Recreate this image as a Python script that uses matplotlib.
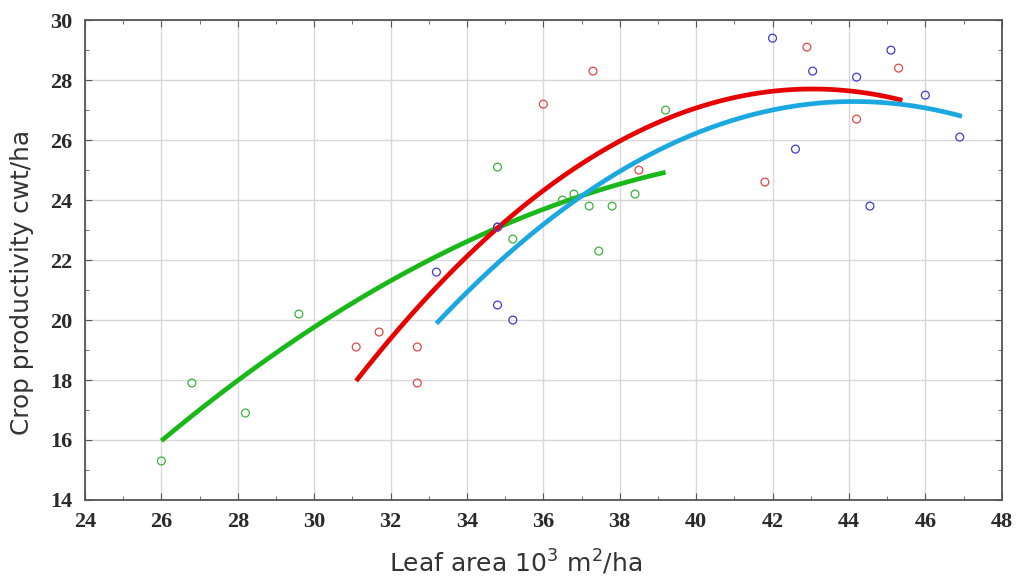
import numpy as np
import matplotlib.pyplot as plt
from matplotlib.ticker import MultipleLocator

# scatter data
green_x = [26.0, 26.8, 28.2, 29.6, 34.8, 35.2, 36.5, 36.8, 37.2, 37.45, 37.8, 38.4, 39.2]
green_y = [15.3, 17.9, 16.9, 20.2, 25.1, 22.7, 24.0, 24.2, 23.8, 22.3, 23.8, 24.2, 27.0]

red_x = [31.1, 31.7, 32.7, 32.7, 34.8, 36.0, 37.3, 38.5, 41.8, 42.9, 44.2, 45.3]
red_y = [19.1, 19.6, 19.1, 17.9, 23.1, 27.2, 28.3, 25.0, 24.6, 29.1, 26.7, 28.4]

blue_x = [33.2, 34.8, 35.2, 34.8, 42.0, 42.6, 43.05, 44.2, 44.55, 45.1, 46.0, 46.9]
blue_y = [21.6, 20.5, 20.0, 23.1, 29.4, 25.7, 28.3, 28.1, 23.8, 29.0, 27.5, 26.1]

# points
green_cx = [26.0, 30.0, 34.8, 39.2]
green_cy = [15.97, 19.77, 23.07, 24.93]
red_cx = [31.1, 34.8, 43.0, 45.4]
red_cy = [17.97, 23.07, 27.7, 27.33]
blue_cx = [33.2, 37.0, 44.1, 46.96]
blue_cy = [19.9, 24.1, 27.33, 26.77]

fig = plt.figure(figsize=(10.18, 5.76), dpi=100)
ax = fig.add_axes([0.0835, 0.132, 0.9005, 0.833])

for cx, cy, col in [(green_cx, green_cy, "#17b817"),
                    (red_cx, red_cy, "#e60000"),
                    (blue_cx, blue_cy, "#1ba8e0")]:
    p = np.polyfit(cx, cy, 2)
    xs = np.linspace(cx[0], cx[-1], 200)
    ax.plot(xs, np.polyval(p, xs), color=col, lw=3.4, solid_capstyle="butt", zorder=3)

ax.scatter(green_x, green_y, s=32, facecolors="none", edgecolors="#3cb43c", lw=0.9, zorder=4)
ax.scatter(red_x, red_y, s=32, facecolors="none", edgecolors="#e04848", lw=0.9, zorder=4)
ax.scatter(blue_x, blue_y, s=32, facecolors="none", edgecolors="#3c3cd0", lw=0.9, zorder=4)

ax.set_xlim(24, 48)
ax.set_ylim(14, 30)
ax.xaxis.set_major_locator(MultipleLocator(2))
ax.xaxis.set_minor_locator(MultipleLocator(1))
ax.yaxis.set_major_locator(MultipleLocator(2))
ax.yaxis.set_minor_locator(MultipleLocator(1))
ax.tick_params(which="both", direction="in", top=True, right=True, color="#555555")
ax.tick_params(which="major", length=5)
ax.tick_params(which="minor", length=3)
ax.tick_params(axis="x", which="major", pad=9)
ax.tick_params(axis="y", which="major", pad=9)
ax.grid(True, which="major", color="#d8d8d8", lw=1)
ax.set_axisbelow(True)
for s in ax.spines.values():
    s.set_color("#555555")
    s.set_linewidth(1.3)

for lab in ax.get_xticklabels() + ax.get_yticklabels():
    lab.set_fontfamily("Liberation Serif")
    lab.set_fontweight("bold")
    lab.set_fontsize(16)
    lab.set_color("#2a2a2a")

ax.set_xlabel("Leaf area 10$^{3}$ m$^{2}$/ha", fontsize=18, color="#333333", va="center")
ax.set_ylabel("Crop productivity cwt/ha", fontsize=17.8, color="#333333", va="center")
ax.xaxis.set_label_coords(0.47, -0.131)
ax.yaxis.set_label_coords(-0.0687, 0.454)

fig.savefig("out.png", dpi=100)
